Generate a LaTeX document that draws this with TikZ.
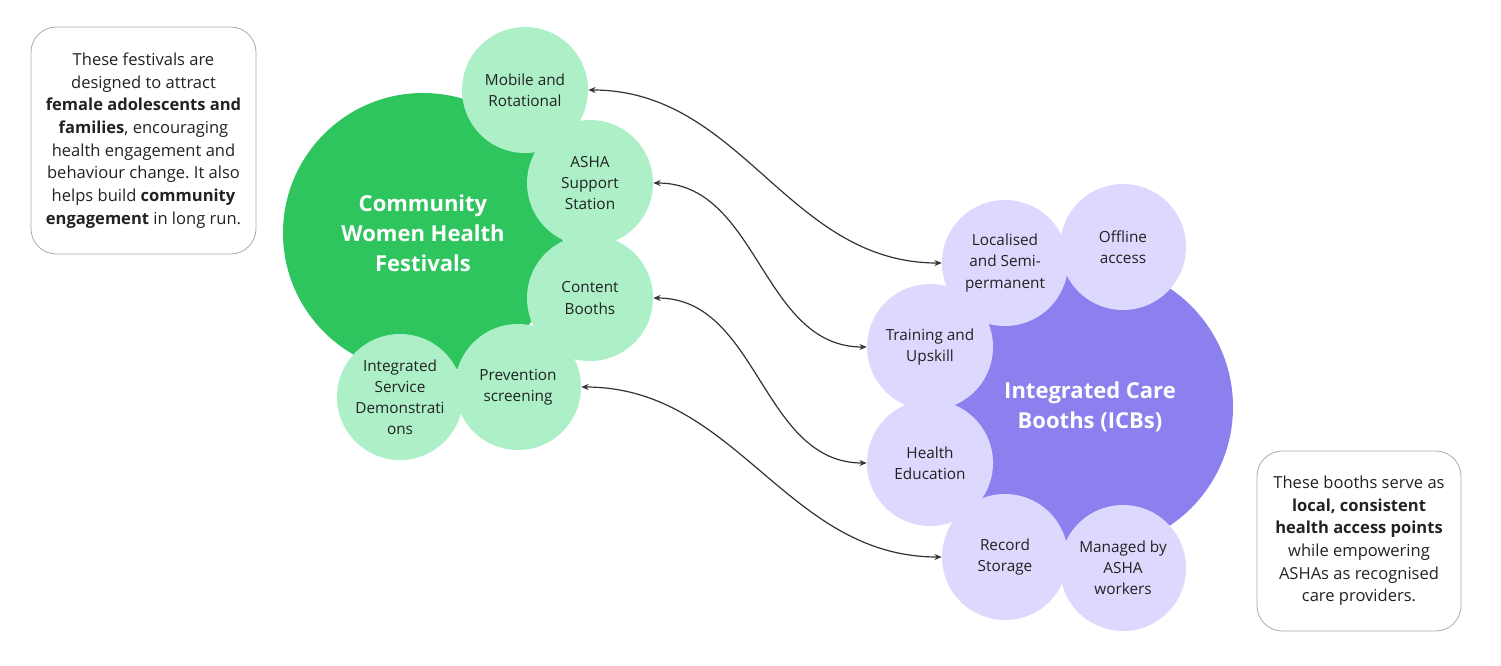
\documentclass[tikz,border=0pt]{standalone}
\usepackage{fontspec}
\setmainfont{Open Sans}
\usetikzlibrary{arrows.meta}
\frenchspacing
\definecolor{emerald}{RGB}{47, 197, 94}
\definecolor{mint}{RGB}{173, 240, 200}
\definecolor{amethyst}{RGB}{140, 127, 238}
\definecolor{lavender}{RGB}{221, 216, 253}
\definecolor{ink}{RGB}{34, 34, 34}
\definecolor{wire}{RGB}{51, 51, 51}
\definecolor{frame}{RGB}{170, 170, 170}
\tikzset{
  bigcircle/.style={circle, inner sep=0pt, text=white, align=center,
                    font=\fontsize{16.5}{22.5}\selectfont\bfseries},
  subcircle/.style={circle, inner sep=0pt, minimum size=94.5pt, text=ink, align=center,
                    font=\fontsize{11.5}{15.8}\selectfont},
  notebox/.style={draw=frame, line width=0.6pt, rounded corners=19pt, text=ink, align=center,
                  inner sep=0pt, font=\fontsize{12.4}{17}\selectfont},
  link/.style={wire, line width=0.9pt, {Stealth[length=5.5pt,width=4.5pt]}-{Stealth[length=5.5pt,width=4.5pt]},
               out=0, in=180}
}
\begin{document}
\begin{tikzpicture}[x=0.75pt, y=-0.75pt]
    \useasboundingbox (0,0) rectangle (1501,665);
    \node[bigcircle, fill=emerald,  minimum size=210pt]   (festivals) at ( 423, 233) {Community\\Women Health\\Festivals};
    \node[subcircle, fill=mint]                           (mobile)    at ( 525,  90) {Mobile and\\Rotational};
    \node[subcircle, fill=mint]                           (asha)      at ( 590, 183) {ASHA\\Support\\Station};
    \node[subcircle, fill=mint]                           (content)   at ( 590, 298) {Content\\Booths};
    \node[subcircle, fill=mint]                           (demo)      at ( 400, 397) {Integrated\\Service\\Demonstrati\\ons};
    \node[subcircle, fill=mint]                           (screening) at ( 518, 387) {Prevention\\screening};

    \node[bigcircle, fill=amethyst, minimum size=214.5pt] (booths)    at (1090, 407) {Integrated Care\\Booths (ICBs)};
    \node[subcircle, fill=lavender]                       (offline)   at (1123, 247) {Offline\\access};
    \node[subcircle, fill=lavender]                       (localised) at (1005, 263) {Localised\\and Semi-\\permanent};
    \node[subcircle, fill=lavender]                       (training)  at ( 930, 347) {Training and\\Upskill};
    \node[subcircle, fill=lavender]                       (education) at ( 930, 463) {Health\\Education};
    \node[subcircle, fill=lavender]                       (managed)   at (1123, 568) {Managed by\\ASHA\\workers};
    \node[subcircle, fill=lavender]                       (record)    at (1005, 557) {Record\\Storage};

    \draw[link] (mobile.east)    to (localised.west);
    \draw[link] (asha.east)      to (training.west);
    \draw[link] (content.east)   to (education.west);
    \draw[link] (screening.east) to (record.west);

    \node[notebox, minimum width=168.75pt, minimum height=170.25pt] (festnote)  at ( 143.5, 140.5)
        {These festivals are\\designed to attract\\\textbf{female adolescents and}\\\textbf{families}, encouraging\\health engagement and\\behaviour change. It also\\helps build \textbf{community}\\\textbf{engagement} in long run.};
    \node[notebox, minimum width=153pt, minimum height=135pt]       (boothnote) at (1359, 541)
        {These booths serve as\\\textbf{local, consistent}\\\textbf{health access points}\\while empowering\\ASHAs as recognised\\care providers.};
\end{tikzpicture}
\end{document}
